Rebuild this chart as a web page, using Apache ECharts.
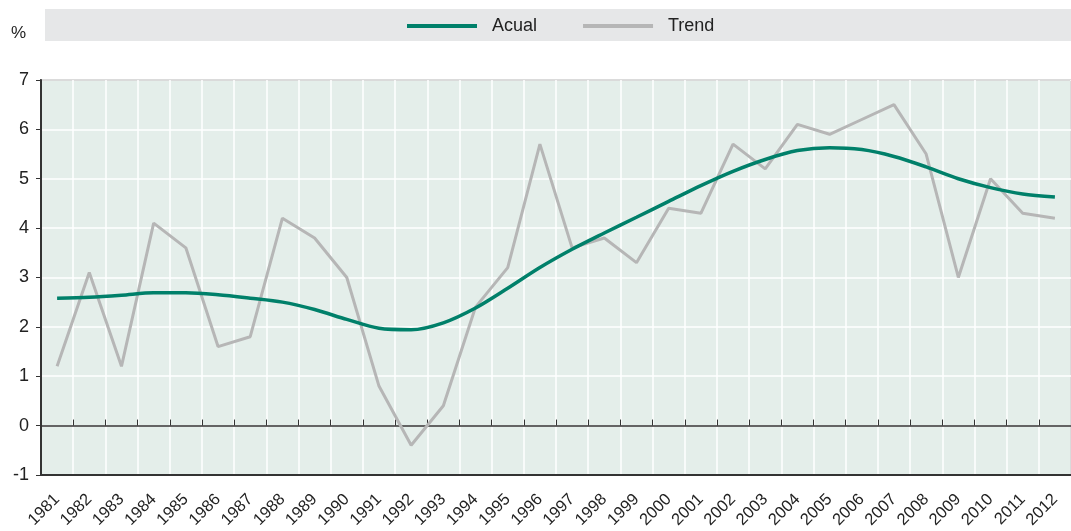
<!DOCTYPE html>
<html>
<head>
<meta charset="utf-8">
<style>
  html, body { margin: 0; padding: 0; background: #fff; }
  #chart { width: 1071px; height: 531px; }
</style>
<script src="https://cdn.jsdelivr.net/npm/echarts@6/dist/echarts.min.js"></script>
</head>
<body>
<div id="chart"></div>
<script>
// 年份
var years = ['1981', '1982', '1983', '1984', '1985', '1986', '1987', '1988', '1989', '1990',
    '1991', '1992', '1993', '1994', '1995', '1996', '1997', '1998', '1999', '2000',
    '2001', '2002', '2003', '2004', '2005', '2006', '2007', '2008', '2009', '2010',
    '2011', '2012'];
// 實際值 (平滑綠線)
var acual = [2.58, 2.6, 2.64, 2.69, 2.69, 2.65, 2.58, 2.5, 2.35, 2.15,
    1.97, 1.94, 2.08, 2.38, 2.78, 3.2, 3.57, 3.9, 4.22, 4.54,
    4.86, 5.15, 5.39, 5.57, 5.63, 5.59, 5.45, 5.24, 5.0, 4.82,
    4.69, 4.63];
// 趨勢 (灰線)
var trend = [1.2, 3.1, 1.2, 4.1, 3.6, 1.6, 1.8, 4.2, 3.8, 3.0,
    0.8, -0.4, 0.4, 2.4, 3.2, 5.7, 3.6, 3.8, 3.3, 4.4,
    4.3, 5.7, 5.2, 6.1, 5.9, 6.2, 6.5, 5.5, 3.0, 5.0,
    4.3, 4.2];
var yMin = -1, yMax = 7, yStep = 1;

var FONT = "'Liberation Sans', Arial, sans-serif";

var chart = echarts.init(document.getElementById('chart'));
var option = {
    animation: false,
    textStyle: { fontFamily: FONT },
    graphic: [
        { type: 'rect', left: 45, top: 9, shape: { width: 1026, height: 32 }, style: { fill: '#e6e7e8' }, z: -1 },
        { type: 'text', left: 11, top: 25, style: { text: '%', fontSize: 17, fill: '#222', fontFamily: FONT } }
    ],
    legend: {
        data: ['Acual', 'Trend'],
        top: 12,
        left: 402,
        itemWidth: 70,
        itemHeight: 4,
        itemGap: 46,
        icon: 'rect',
        textStyle: { fontSize: 18, color: '#222', fontFamily: FONT, padding: [0, 0, 0, 10] }
    },
    grid: {
        left: 41, right: 0, top: 80, bottom: 55,
        show: true,
        backgroundColor: '#e4eeea',
        borderColor: '#444',
        borderWidth: 1.5
    },
    xAxis: [
        {
            type: 'category',
            data: years,
            boundaryGap: true,
            axisLine: { onZero: false, lineStyle: { color: '#333', width: 2 } },
            axisTick: { show: false },
            axisLabel: { rotate: 45, fontSize: 16.5, color: '#222', margin: 22, interval: 0, fontFamily: FONT },
            splitLine: { show: true, interval: 0, lineStyle: { color: '#ffffff', width: 1.5 } }
        },
        {
            type: 'category',
            data: years,
            position: 'bottom',
            boundaryGap: true,
            axisLine: { onZero: true, lineStyle: { color: '#333', width: 1.5 } },
            axisTick: { show: true, inside: true, length: 6, interval: 0, lineStyle: { color: '#333' } },
            axisLabel: { show: false },
            splitLine: { show: false }
        }
    ],
    yAxis: {
        type: 'value',
        min: yMin, max: yMax, interval: yStep,
        axisLine: { show: true, lineStyle: { color: '#333', width: 2 } },
        axisTick: { show: true, length: 5, lineStyle: { color: '#333' } },
        axisLabel: { fontSize: 18, color: '#222', margin: 12, fontFamily: FONT },
        splitLine: { show: true, lineStyle: { color: '#ffffff', width: 1.5 } }
    },
    series: [
        {
            name: 'Trend',
            type: 'line',
            data: trend,
            symbol: 'none',
            lineStyle: { color: '#b6b6b6', width: 3 },
            itemStyle: { color: '#b6b6b6' },
            z: 2
        },
        {
            name: 'Acual',
            type: 'line',
            data: acual,
            symbol: 'none',
            smooth: 0.3,
            lineStyle: { color: '#00806a', width: 3.5 },
            itemStyle: { color: '#00806a' },
            z: 3
        }
    ]
};
chart.setOption(option);

window.addEventListener('resize', function() {
    chart.resize();
});
</script>
</body>
</html>
